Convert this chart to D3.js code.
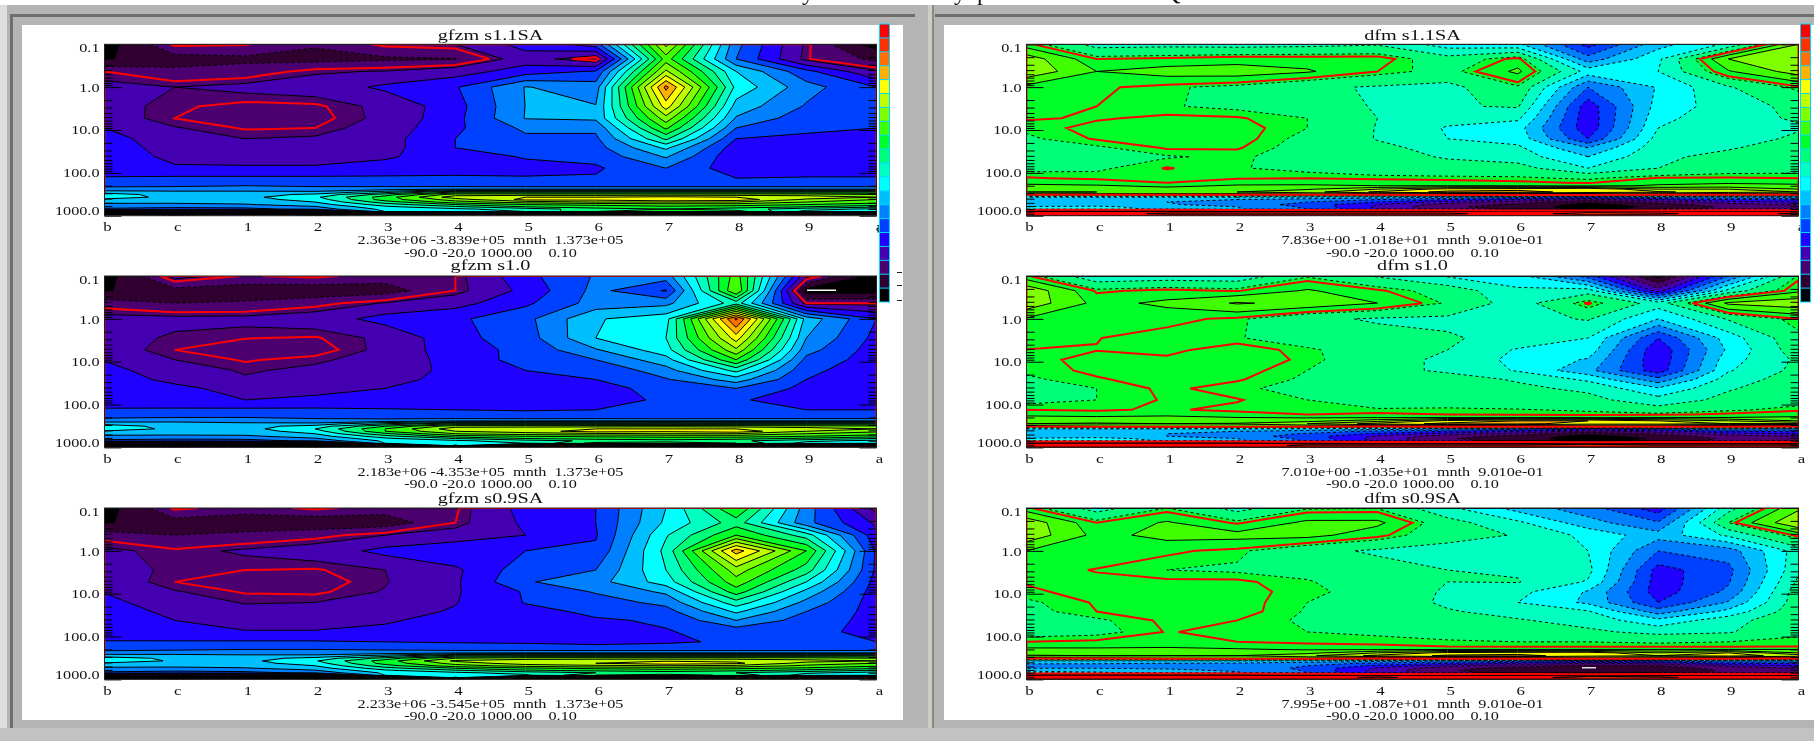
<!DOCTYPE html>
<html>
<head>
<meta charset="utf-8">
<script src="https://cdn.jsdelivr.net/npm/d3@7"></script>
<style>
  html, body { margin: 0; background: #fff; overflow: hidden; }
  svg { display: block; filter: blur(0.45px); }
  text { font-family: "Liberation Serif", serif; fill: #111; }
</style>
</head>
<body>
<svg id="chart" width="1814" height="741"></svg>
<script>
const levels = [0.1,0.22,0.43,1,2.8,5.3,9,16,26,42,78,133,170,200,240,280,320,370,420,480,550,620,700,800,900,1000];
const months = ['b','c','1','2','3','4','5','6','7','8','9','a'];
const yLabels = [0.1,1,10,100,1000];
const bandColors = ['#000000','#300030','#4c0070','#4400b0','#2000ff','#0040ff','#0080ff','#00bfff','#00ffff','#00ffc0','#00ff78','#00ff28','#40ff00','#80ff00','#c0ff00','#ffff00','#ffb000','#ff7000','#ff3000','#ff0000'];

// values in contour-interval units, one row per level
const gfzmS11 = [
[.5,2.85,2.75,2.1,2.85,3,4.4,5.5,14.3,6.3,2.85,.5],
[.9,1.6,1.8,1.7,1.85,1.95,3.5,2.3,12.5,6,2.75,1.8],
[2.7,2.2,2.35,2.9,3.05,3.5,4.5,5.1,14.2,8,5.3,3.1],
[3.2,3,3.2,3.4,4.2,4.9,7.05,6.5,17.3,8.7,6.4,5],
[3.3,2.78,2.55,2.6,3.2,4.6,7.02,7.05,15.5,7.6,5.9,5.1],
[3.4,2.7,2.4,2.5,3.2,4.7,7.05,7.2,13.6,6.9,5.4,5.1],
[4,3.05,2.65,2.7,3.4,4.8,6.2,6.2,12.2,6,5.3,5],
[4.4,3.4,3,3.1,3.6,5,5.8,5.8,10.2,5,4.7,4.7],
[4.5,3.6,3.3,3.3,3.6,5,5.5,5.6,8.2,4.4,4.3,4.4],
[4.5,3.8,3.7,3.7,3.9,4.4,5.1,5.3,7.1,4.2,4.2,4.3],
[4.4,4.1,4.1,4.1,4.3,4.5,4.6,4.85,6,4.4,4.3,4.3],
[5.1,5.2,5.2,5.2,5.2,5.2,5.1,5.1,5.2,5,5.1,5.1],
[5.5,5.6,5.7,5.6,5.5,5.4,5.4,5.4,5.4,5.4,5.4,5.4],
[5.9,5.9,6,5.9,5.8,5.7,5.6,5.6,5.6,5.6,5.6,5.6],
[6.2,6.3,6.3,6.3,6.6,7,7,7,7,7,7,7],
[7.6,7.3,7.3,7.2,8.5,11,11,11,11,11,11,11],
[8.4,7.6,7.6,8.2,10.5,13.5,13.5,13.5,13.5,13.5,13.5,13],
[8.5,7.7,7.7,8.8,11.5,14.6,15,15,15.3,15,14.6,14],
[7.8,7.5,7.6,8.4,11.5,13.5,15.3,15.3,16,15.6,13.8,13],
[7.2,7.2,7.4,8,10.5,12.6,13.5,14,14,14,13,12.4],
[6.8,6.8,6.9,7.5,9.5,11,12,12.2,12.5,12.5,12,11.5],
[6.4,6.3,6.4,6.9,8.8,9.8,11,11.6,11.8,11.5,11,10.2],
[5.8,5.4,5.6,6.4,8.3,8.8,9.5,10.5,11,10.5,9.4,8.8],
[.5,.5,.5,.5,8,8.3,9,11,12,11.5,8.6,8.2],
[.5,9.2,.5,9.2,.5,.5,.5,.5,.5,.5,.5,.5],
[.5,.5,.5,.5,.5,.5,.5,.5,.5,.5,.5,.5]];
const gfzmS10 = [
[.5,3.3,2.65,2.85,2.4,2.7,4.7,6.1,6.5,12.5,3.3,.5],
[.9,1.7,1.5,1.4,1.6,2.7,4.3,6.3,4.9,13,.5,.5],
[2.45,2,2.1,2.5,3.05,3.6,4.8,6.4,6.7,9.5,2.7,2.7],
[3.2,3.2,3.2,3.4,4.4,4.8,5.7,7.9,8.6,18.2,7.6,5],
[3.3,2.9,2.72,2.65,3.15,4.7,5.5,8,9,15.5,7,4.7],
[3.4,2.7,2.4,2.45,3.2,4.6,5.25,6.9,8.6,13.8,6.4,4.5],
[3.95,3,2.65,2.85,3.4,4.35,5.4,6,7.6,12,5.7,4.5],
[4.3,3.5,2.9,3.2,3.6,4.2,5,5.1,6.6,9.3,5.2,4.5],
[4.4,3.8,3.1,3.4,3.7,4.3,4.7,5,5.9,7.5,5,4.5],
[4.5,4.2,3.7,3.85,4,4.3,4.55,4.8,5.2,6,4.7,4.5],
[4.5,4.3,4,4.1,4.2,4.4,4.6,4.75,5.1,5.1,4.6,4.5],
[5.1,5.15,5.2,5.2,5.1,5,4.95,5,5,5,5,5],
[5.5,5.6,5.6,5.5,5.4,5.3,5.2,5.3,5.3,5.3,5.3,5.3],
[5.9,6,6,5.9,5.7,5.6,5.5,5.5,5.4,5.5,5.5,5.5],
[6.4,6.6,6.4,6.2,6.4,6.8,6.9,7,7,7,7,7],
[7.8,7.6,7.3,7.3,9,11,11,11,11,11,11,11],
[8.4,7.7,7.6,8.4,11,13.6,13.6,13.6,13.7,13.6,13.4,13.2],
[8.5,7.8,7.6,9,12,14.6,14.8,15,15,15,14.6,14],
[7.9,7.6,7.5,8.5,12,14,14.6,15.4,15.2,15.6,14,13.2],
[7.3,7.2,7.3,8,10.8,13,13.5,13.8,14,14,13,12.5],
[6.8,6.8,6.8,7.5,9.6,11.5,12,12.2,12.3,12.4,12,11.4],
[6.3,6.2,6.3,6.9,8.8,10,11,11.4,11.6,11.4,10.8,10],
[5.7,5.4,5.5,6.3,8.2,8.8,9.6,10.2,10.5,10.2,9.3,8.7],
[.5,.5,.5,.5,8,8.2,9,11.4,11.6,11,8.5,8.1],
[.5,9.1,.5,9.1,.5,9.3,.5,.5,.5,.5,.5,.5],
[.5,.5,.5,.5,.5,.5,.5,.5,.5,.5,.5,.5]];
const gfzmS09 = [
[.5,2.85,2.4,2.85,2.4,2.6,4.4,5,8,12,6.5,2.6],
[.9,1.6,1.45,1.35,1.5,2.7,4.2,5,8.2,10.5,6.3,3.8],
[2.45,2,2.2,2.5,3,3.4,4,4.9,8.9,12,9.5,4.3],
[3.15,2.8,3.1,3.4,4.3,4.8,5,5.2,9.3,16.5,12,4.8],
[3.35,2.85,2.7,2.65,3,3.8,5.6,6,9,13.5,10.5,4.8],
[3.5,2.7,2.45,2.45,2.95,3.85,5.9,6.6,8.5,12.6,9,4.6],
[3.95,3.05,2.65,2.6,3.05,3.9,5.1,6.1,7.2,11.5,7.7,4.5],
[4.3,3.4,2.95,3,3.4,3.95,5.05,5.5,6.3,9.6,6.7,4.5],
[4.5,3.75,3.25,3.3,3.6,4.1,4.7,5.2,5.6,8.2,6,4.6],
[4.6,4,3.7,3.7,3.9,4.3,4.6,4.9,5.1,7,5.5,4.7],
[4.6,4.1,4.05,4.05,4.2,4.4,4.6,4.8,4.95,5.3,5.1,4.9],
[5.05,5.1,5.1,5.1,5,4.9,4.9,4.85,4.9,5.1,5.05,5],
[5.4,5.5,5.6,5.6,5.5,5.4,5.2,5.1,5.2,5.3,5.3,5.3],
[5.8,5.9,6,6,5.9,5.7,5.6,5.5,5.5,5.5,5.5,5.6],
[6.3,6.4,6.3,6.3,6.5,6.8,7,7,7,7,7,7],
[7.6,7.5,7.3,7.3,8.4,10.6,11,11,11,11,11,11],
[8.4,7.8,7.6,8.3,10.4,13,13.5,13.5,13.5,13.5,13.4,13],
[8.5,7.9,7.7,8.9,11.5,14.2,14.6,14.8,14.9,14.8,14.4,14],
[7.9,7.6,7.6,8.5,11.4,13.4,14.6,15,15.6,15.2,13.6,13],
[7.3,7.2,7.4,8,10.6,12.6,13.4,13.8,14,13.8,12.8,12.2],
[6.8,6.8,6.9,7.5,9.6,11,11.8,12.2,12.4,12.2,11.8,11.2],
[6.3,6.2,6.4,6.9,8.8,9.8,10.8,11.2,11.5,11.2,10.6,9.8],
[5.8,5.4,5.6,6.3,8.2,8.8,9.4,10,10.4,10,9.2,8.6],
[.5,.5,.5,.5,8,8.2,8.8,11,11.4,10.8,8.4,8],
[.5,9,.5,9.2,.5,9.2,.5,.5,.5,.5,.5,.5],
[.5,.5,.5,.5,.5,.5,.5,.5,.5,.5,.5,.5]];
const dfmS11 = [
[11.5,9.6,9.7,9.6,9.7,9.9,8.5,8.2,4.6,7.6,9.2,13],
[13.6,11.3,11.4,11.6,11.6,11.6,10.4,11.5,6.4,8.8,13,14],
[13.8,12,12.4,12.5,12.1,11.3,10.7,12.2,8.6,9,11.9,13.5],
[11.7,11.4,11.1,10.8,10.2,9.9,9.7,10.9,6,8.1,9.9,11.2],
[11.6,11.3,11.05,10.85,10.6,9.9,9.9,10.1,4.4,8.4,9.5,10.3],
[11.35,11.25,11.4,11.35,11,10,9.4,9.2,4.3,8.7,9.7,10.1],
[11.1,11.45,11.5,11.5,11,9.95,8.9,8.4,4.3,9,9.3,9.9],
[10.9,11.35,11.45,11.5,10.8,9.95,9,8.6,5,9.4,9.5,10.2],
[10.7,10.9,11.35,11.35,10.7,10.2,9.7,9.2,7,9.6,9.9,10.5],
[10.6,10.6,10.95,11.1,10.7,10.4,9.9,9.5,8,9.8,10.3,10.6],
[10.8,10.9,11.33,11.05,10.8,10.5,10.4,10.4,9,10,10.6,10.7],
[11.35,11.2,11,11.25,11.3,11.2,11.15,11.1,10.9,11.35,11.35,11.3],
[11.8,11.6,11.3,11.7,11.8,11.6,11.5,11.4,11.25,11.8,11.9,11.8],
[12.2,12.1,11.8,12.1,12.1,12,12,12,11.8,12.1,12.3,12.2],
[12.6,12.5,12.3,12.5,12.9,14,15.4,15.6,16,14,14,13],
[13,13,12.8,13,13.6,15.2,16.3,16.5,15.5,15.2,14.4,14],
[11.6,11.5,11.6,11.5,11.6,11.8,12.5,12.5,13,12,12,12],
[8,8,8,8,7.8,7.5,7,6.5,5.5,6.5,7,7],
[7.4,7.3,7.3,7,6.6,6,5,4,2.5,4,5,5.2],
[7.2,7.2,7,6.5,6,5,3.5,2.5,1.2,2.5,3.5,4],
[7.4,7.5,7.1,6.6,5.6,4,2.5,1.8,.6,1.5,2.5,3],
[8.1,8.2,7.6,7,5.8,3.8,2.2,1.5,.5,1.2,2.2,2.6],
[8.4,8.4,7.8,7.1,6,4,2.5,1.8,.6,1.5,2.3,2.9],
[19.5,19.5,19.5,19.5,19.5,19.5,19.5,19.5,19.5,19.5,19.5,19.5],
[19.5,19.5,18.8,18.8,18.8,18.8,18.8,19.5,18.5,18.8,19.5,18.8],
[19.5,19.5,19.5,19.5,19.5,19.5,19.5,19.5,19.5,19.5,19.5,19.5]];
const dfmS10 = [
[11.4,9.2,9.4,9.3,10.9,9.9,8.9,8.3,5.5,.5,6,11.1],
[13.8,11.2,11.45,11.25,12.1,11.4,10.6,9.2,9.5,3.5,9.3,11.8],
[13.7,11.7,12.2,13.1,12.7,12,10.9,9.5,11.4,9.5,13.2,13.7],
[11.9,11.7,11.5,11.15,10.2,9.9,9.8,9.6,10.1,8,10.1,11.3],
[11.55,11.32,11.05,11.05,10.6,10.3,10.1,9.7,9,5,8.5,10.8],
[11.29,11.28,11.15,11.6,11.1,10.6,10,8.9,8.6,4.2,8.2,10.6],
[11.1,11.5,11.4,11.6,11.2,10.4,9.8,8.7,7.9,4.2,8.6,10.2],
[11.1,11.4,11.6,11.5,11,10.3,9.85,8.9,7.3,4.4,8.9,10.3],
[10.9,11.25,11.5,11.35,10.9,10.6,10.4,9.9,8.8,6.4,9.5,10.5],
[10.7,11,11.4,11.1,10.8,10.5,10.6,10.2,9.8,8.1,9.9,10.6],
[10.8,11,11.35,11.33,11,10.7,10.6,10.4,10.3,9.4,10.3,10.7],
[11.3,11.25,11.35,11.2,11,11.05,11.1,11.05,10.9,10.4,10.9,11.2],
[11.8,11.5,11.7,11.5,11.3,11.4,11.3,11.25,11.2,11.2,11.4,11.7],
[12.2,12.2,12.3,12,11.9,11.9,11.9,11.9,11.8,11.9,12,12.1],
[12.6,12.7,12.6,12.5,12.6,13.6,15.3,16,16,15,14,13],
[13,13.1,13,13.1,14,15.4,16.3,16.4,15.4,15.4,15,15],
[11.6,12,12.2,12.3,12.2,12,12.5,12.5,13,12.6,12.2,12],
[8,8,8,8,7.8,7.4,7,6.5,5,6,7,7],
[7.3,7.3,7.2,7,6.6,5.8,5,4,2.5,3.5,5,5.2],
[7.2,7.1,7,6.5,5.9,4.8,3.5,2.5,1.2,2.2,3.5,4],
[7.4,7.5,7,6.5,5.5,3.8,2.4,1.6,.6,1.4,2.5,3],
[8.1,8.3,7.7,7,5.7,3.6,2.1,1.4,.5,1.1,2.2,2.6],
[8.5,8.5,7.9,7.2,5.9,3.8,2.4,1.6,.6,1.4,2.3,2.9],
[19.5,19.5,19.5,19.5,19.5,19.5,19.5,19.5,19.5,19.5,19.5,19.5],
[19.5,19.5,19.5,19.5,18.8,18.8,18.8,18.8,18.5,18.8,18.8,18.8],
[19.5,19.5,19.5,19.5,19.5,19.5,19.5,19.5,19.5,19.5,19.5,19.5]];
const dfmS09 = [
[11.45,9.5,11,9.6,10.9,10.95,9.2,7.6,6.4,4.4,9.6,12.8],
[13.7,11.3,12.1,11.2,12.2,12.2,10.4,9.2,7.4,6.1,11,14],
[13.7,11.7,12.3,12.3,12.3,11.5,10.3,9.95,8.7,7.4,9.2,11.5],
[12,11.9,11.4,11.15,10.3,9.85,9.7,9.7,9,6,6.5,9.5],
[11.65,11.25,11,10.9,10.8,10.4,10,9.9,9.3,4.6,5.7,9.8],
[11.35,11.5,11.4,11.4,11.05,10.6,10,10.05,8.9,4.5,5.9,10.2],
[11.2,11.5,11.5,11.5,11.1,10.8,9.85,9.3,7.9,4.5,6.2,10.6],
[10.9,11.35,11.5,11.5,11,10.7,9.8,9,7.8,5,7.1,10.6],
[10.8,11.3,11.4,11.5,10.95,10.8,10.1,9.6,9.1,6.5,8.3,10.7],
[10.7,10.9,11.4,11.3,10.9,10.9,10.4,10.1,9.6,8.3,9.6,10.8],
[10.7,10.8,11.33,11.15,11,10.9,10.6,10.4,10.2,9.7,9.9,10.9],
[11.3,11.4,11.5,11.3,11.2,11.15,11.1,11,11,10.9,11,11.1],
[11.8,11.9,11.9,11.7,11.5,11.4,11.3,11.25,11.25,11.25,11.25,11.3],
[12.2,12.1,12.2,12.1,11.9,11.9,12,12,12,12,12,12],
[12.6,12.7,12.6,12.5,12.7,14,15.3,15.5,15.6,14,15,13],
[13.1,13,13,13,13.8,15.3,16.2,16.4,15.4,15,15.4,14.6],
[11.6,11.8,12,12.2,12,12,12.5,12.5,13,12.6,12.2,12],
[8,8,8,8,7.7,7.4,7,6.5,5.6,6,7,7],
[7.1,7.1,7,6.9,6.5,5.8,5,4,3,3.4,5,5.2],
[6.7,6.6,6.6,6.5,6,4.8,3.3,2.4,1.8,2,3.2,4],
[7,7,6.9,6.6,5.8,3.8,2.3,1.6,1.2,1.3,2.5,3],
[7.8,7.6,7.2,6.9,5.9,3.6,2.1,1.5,1,1.1,2.2,2.6],
[8.4,8.2,7.6,7.1,6,3.8,2.4,1.6,1.2,1.4,2.3,2.9],
[19.5,19.5,19.5,19.5,19.5,19.5,19.5,19.5,19.5,19.5,19.5,19.5],
[19.5,19.5,19.5,19.5,19.5,18.8,19.5,19.5,18.5,18.8,19.5,19.5],
[19.5,19.5,19.5,19.5,19.5,19.5,19.5,19.5,19.5,19.5,19.5,19.5]];

const titles = ['gfzm s1.1SA','gfzm s1.0','gfzm s0.9SA','dfm s1.1SA','dfm s1.0','dfm s0.9SA'];
const statLines = ['2.363e+06 -3.839e+05  mnth  1.373e+05','2.183e+06 -4.353e+05  mnth  1.373e+05','2.233e+06 -3.545e+05  mnth  1.373e+05','7.836e+00 -1.018e+01  mnth  9.010e-01','7.010e+00 -1.035e+01  mnth  9.010e-01','7.995e+00 -1.087e+01  mnth  9.010e-01'];
const rangeLine = '-90.0 -20.0 1000.00    0.10';
const grids = [gfzmS11,gfzmS10,gfzmS09,dfmS11,dfmS10,dfmS09];
const zeroLevels = [2.7,2.7,2.7,11.3,11.3,11.3];

const plotW = 772, plotH = 171.4;
const plotX = [104.5,1026.5];
const plotY = [44.3,276,508];
const titleDy = [4,6,5];
const stretch = 1.35;

const svg = d3.select('#chart');

// window chrome
const chrome = (x,y,w,h,c) => svg.append('rect').attr('x',x).attr('y',y).attr('width',w).attr('height',h).attr('fill',c);
chrome(0,5,1814,736,'#b4b4b4');
chrome(0,5,7,736,'#dedede');
chrome(10,14,3,714,'#6e6e6e');
chrome(10,14,905,3,'#6e6e6e');
chrome(935,14,879,3,'#6e6e6e');
chrome(928,5,6,736,'#cfccc2');
chrome(932,5,2,736,'#8c8a80');
chrome(0,728,1814,13,'#c2c2c2');
chrome(22,25,881,695,'#ffffff');
chrome(944,25,870,695,'#ffffff');

// tails of the heading cut by the top of the screenshot
[['y',808],['y',960],['p',983],['Q',1172]].forEach(([s,x]) => {
    svg.append('text').attr('x',x).attr('y',0).attr('text-anchor','middle').attr('font-size',24).text(s);
});

const label = (x,y,s,size,anchor) => svg.append('text')
    .attr('transform',`translate(${x},${y}) scale(${stretch},1)`)
    .attr('text-anchor',anchor).attr('font-size',size).style('white-space','pre').text(s);

const yScale = d3.scaleLog().domain([0.1,1000]).range([0,plotH]);
const xScale = d3.scaleLinear().domain([0,months.length-1]).range([0,plotW]);
const rowScale = d3.scaleLinear().domain(d3.range(levels.length)).range(levels.map(p => yScale(p))).clamp(true);
const colScale = d3.scaleLinear().domain([0,months.length-1]).range([0,plotW]).clamp(true);
// d3.contours puts value i at i+0.5
const gridPath = d3.geoPath(d3.geoTransform({
    point(x,y) { this.stream.point(colScale(x-0.5), rowScale(y-0.5)); }
}));
const contours = d3.contours().size([months.length,levels.length]).smooth(true);

grids.forEach((grid,i) => {
    const col = i < 3 ? 0 : 1, row = i % 3;
    const x0 = plotX[col], y0 = plotY[row];
    const values = grid.flat();
    const clipId = `clip-${i}`;
    svg.append('clipPath').attr('id',clipId).append('rect').attr('width',plotW).attr('height',plotH);
    // the gfzm zero line is not drawn through the black bottom rows
    svg.append('clipPath').attr('id',`${clipId}-zero`).append('rect').attr('width',plotW).attr('height',i < 3 ? 150 : plotH);
    const g = svg.append('g').attr('transform',`translate(${x0},${y0})`);
    const plot = g.append('g').attr('clip-path',`url(#${clipId})`);

    plot.append('rect').attr('width',plotW).attr('height',plotH).attr('fill',bandColors[0]);
    const thresholds = d3.range(1,bandColors.length);
    thresholds.forEach(t => {
        plot.append('path').datum(contours.contour(values,t)).attr('d',gridPath).attr('fill',bandColors[t]);
    });
    thresholds.forEach(t => {
        plot.append('path').datum(contours.contour(values,t)).attr('d',gridPath)
            .attr('fill','none').attr('stroke','#000').attr('stroke-width',1)
            .attr('stroke-dasharray',t < zeroLevels[i] ? '3,3' : null);
    });
    g.append('path').attr('clip-path',`url(#${clipId}-zero)`).datum(contours.contour(values,zeroLevels[i])).attr('d',gridPath)
        .attr('fill','none').attr('stroke','#ff0000').attr('stroke-width',2);

    // log ticks run inside the frame on both sides
    const minor = yScale.ticks().filter(v => !yLabels.includes(v));
    [[d3.axisLeft,0],[d3.axisRight,plotW]].forEach(([axis,tx]) => {
        [[minor,8],[yLabels,17]].forEach(([vals,len]) => {
            g.append('g').attr('transform',`translate(${tx},0)`)
                .call(axis(yScale).tickValues(vals).tickSize(-len).tickFormat(''))
                .call(a => a.select('.domain').remove())
                .call(a => a.selectAll('line').attr('stroke','#000'));
        });
    });
    g.append('rect').attr('width',plotW).attr('height',plotH).attr('fill','none').attr('stroke','#222').attr('stroke-width',1);

    // texts
    label(x0+plotW/2,y0-titleDy[row],titles[i],15,'middle');
    const labelY = [48,88,130,173,211];
    yLabels.forEach((v,k) => {
        const ty = y0 + (labelY[k]-44.3) + 4;
        label(x0-5,ty,v === 0.1 ? '0.1' : v.toFixed(1),12,'end');
    });
    months.forEach((m,k) => label(x0+xScale(k)+3,y0+plotH+15.5,m,12.5,'middle'));
    label(x0+plotW/2,y0+plotH+28.5,statLines[i],12,'middle');
    label(x0+plotW/2,y0+plotH+41,rangeLine,12,'middle');
});

// colour bars
const barY = d3.scaleBand().domain(d3.range(bandColors.length).reverse()).range([24,302]);
[880,1801].forEach(bx => {
    const bar = svg.append('g');
    bar.append('rect').attr('x',bx-1).attr('y',23.5).attr('width',11).attr('height',279).attr('fill','#00d8ff');
    bar.selectAll('rect.cell').data(bandColors).join('rect').attr('class','cell')
        .attr('x',bx).attr('y',(_,k) => barY(k)+0.5).attr('width',9).attr('height',barY.bandwidth()-1)
        .attr('fill',d => d);
});
// stray marks of the screenshot
[272,285,300].forEach(ty => chrome(897,ty,5,1,'#222'));
[225,228,231].forEach(ty => chrome(877.5,ty,1.5,1.5,'#333'));
chrome(807,289.5,29,1.5,'#ffffff');
chrome(1582,667,14,1.5,'#dddddd');
</script>
</body>
</html>
